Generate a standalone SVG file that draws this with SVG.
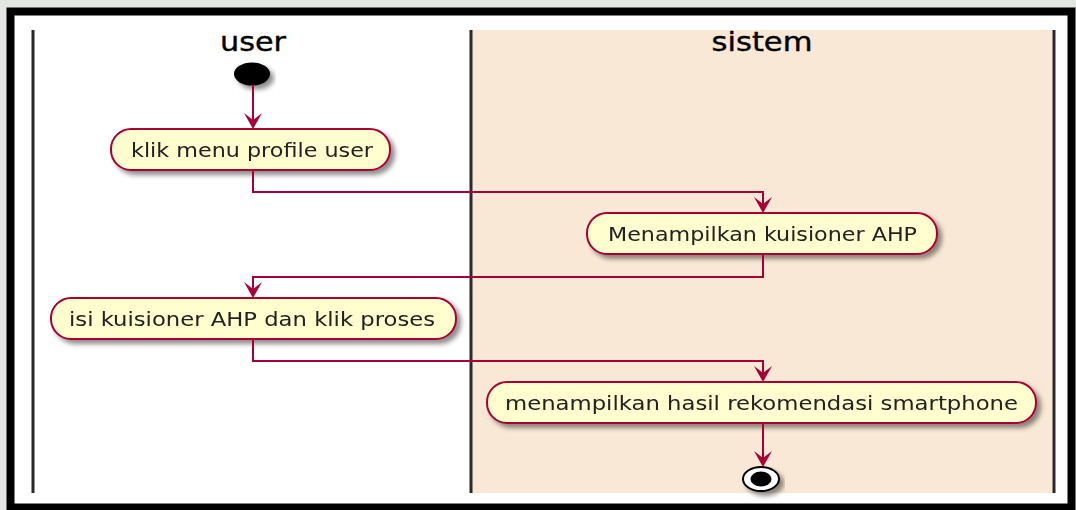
<svg xmlns="http://www.w3.org/2000/svg" width="1076" height="510" viewBox="0 0 1076 510">
  <defs>
    <style>
      .lane-line { stroke: #2a2a2a; stroke-width: 3; }
      .title { font-family: "DejaVu Sans", sans-serif; font-size: 27px; fill: #000; text-anchor: middle; stroke: #000; stroke-width: 0.4; }
      .act rect { fill: #fefece; stroke: #a80036; stroke-width: 2; }
      .act text { font-family: "DejaVu Sans", sans-serif; font-size: 19px; fill: #222; text-anchor: middle; }
      .flow { fill: none; stroke: #a80036; stroke-width: 2; }
      .head { fill: #a80036; }
    </style>
    <filter id="shadow" x="-10%" y="-30%" width="125%" height="170%">
      <feGaussianBlur in="SourceAlpha" stdDeviation="2.5"/>
      <feOffset dx="4" dy="4" result="off"/>
      <feComponentTransfer><feFuncA type="linear" slope="0.45"/></feComponentTransfer>
      <feMerge><feMergeNode/><feMergeNode in="SourceGraphic"/></feMerge>
    </filter>
  </defs>

  <!-- page background and frame -->
  <rect x="0" y="0" width="1076" height="510" fill="#e4e6e4"/>
  <rect x="10.5" y="11.5" width="1061" height="496" fill="#ffffff" stroke="#000" stroke-width="8"/>

  <!-- swimlanes -->
  <g id="lanes">
    <rect x="472" y="30" width="581" height="463" fill="#f9e8d6"/>
    <line class="lane-line" x1="33" y1="30" x2="33" y2="493"/>
    <line class="lane-line" x1="471" y1="30" x2="471" y2="493"/>
    <line class="lane-line" x1="1054" y1="30" x2="1054" y2="493"/>
    <text class="title" x="253" y="51" textLength="66" lengthAdjust="spacingAndGlyphs">user</text>
    <text class="title" x="762" y="51" textLength="101" lengthAdjust="spacingAndGlyphs">sistem</text>
  </g>

  <!-- start -->
  <g id="start" filter="url(#shadow)">
    <ellipse cx="252" cy="74" rx="18" ry="11.5" fill="#000"/>
  </g>

  <!-- activities -->
  <g id="act1" class="act" filter="url(#shadow)">
    <rect x="111" y="129" width="279" height="41" rx="20" ry="20"/>
    <text x="252" y="157" textLength="242" lengthAdjust="spacingAndGlyphs">klik menu profile user</text>
  </g>
  <g id="act2" class="act" filter="url(#shadow)">
    <rect x="587" y="213" width="350" height="41" rx="20" ry="20"/>
    <text x="762.5" y="241" textLength="309" lengthAdjust="spacingAndGlyphs">Menampilkan kuisioner AHP</text>
  </g>
  <g id="act3" class="act" filter="url(#shadow)">
    <rect x="51" y="298" width="405" height="41" rx="20" ry="20"/>
    <text x="252" y="326" textLength="366" lengthAdjust="spacingAndGlyphs">isi kuisioner AHP dan klik proses</text>
  </g>
  <g id="act4" class="act" filter="url(#shadow)">
    <rect x="487" y="382" width="549" height="41" rx="20" ry="20"/>
    <text x="761.5" y="410" textLength="513" lengthAdjust="spacingAndGlyphs">menampilkan hasil rekomendasi smartphone</text>
  </g>

  <!-- end -->
  <g id="end" filter="url(#shadow)">
    <ellipse cx="761" cy="479" rx="18" ry="12" fill="#fff" stroke="#000" stroke-width="2"/>
    <ellipse cx="761" cy="479" rx="10.5" ry="7.5" fill="#000"/>
  </g>

  <!-- connectors -->
  <g id="connectors">
    <path class="flow" d="M253 85 V127"/>
    <polygon class="head" points="253,129 244,113 253,120 262,113"/>

    <path class="flow" d="M253 170 V192 H763 V211"/>
    <polygon class="head" points="763,213 754,197 763,204 772,197"/>

    <path class="flow" d="M763 254 V277 H253 V296"/>
    <polygon class="head" points="253,298 244,282 253,289 262,282"/>

    <path class="flow" d="M253 339 V361 H763 V380"/>
    <polygon class="head" points="763,382 754,366 763,373 772,366"/>

    <path class="flow" d="M763 423 V465"/>
    <polygon class="head" points="763,467 754,451 763,458 772,451"/>
  </g>
</svg>
